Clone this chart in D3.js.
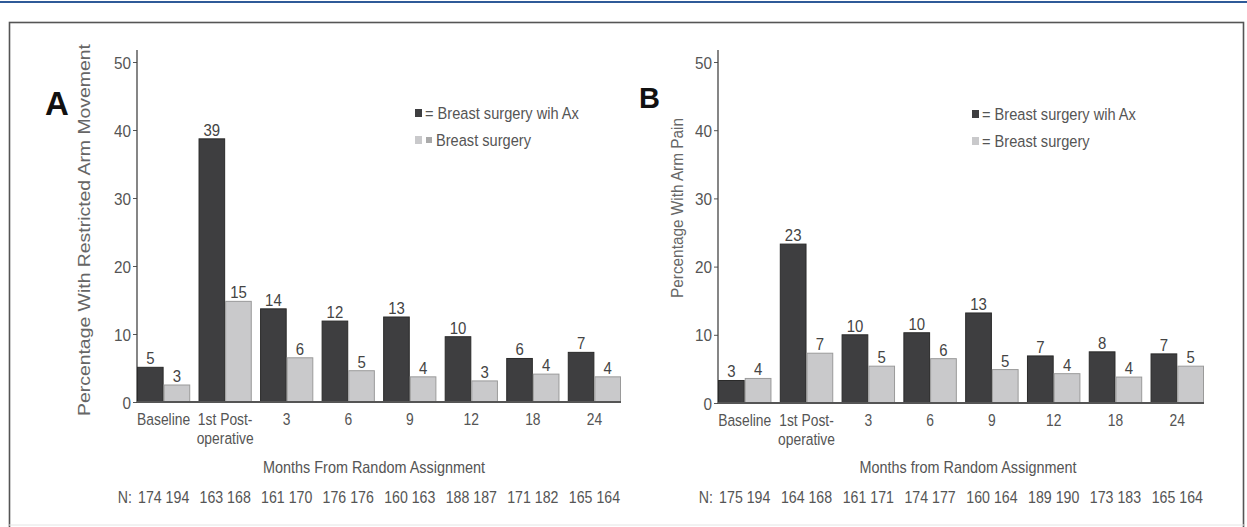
<!DOCTYPE html>
<html>
<head>
<meta charset="utf-8">
<script src="https://cdn.jsdelivr.net/npm/d3@7"></script>
<style>
  body { margin: 0; background: #fff; }
  svg text { font-family: 'Liberation Sans Narrow', 'Arial Narrow', 'Liberation Sans', sans-serif; }
</style>
</head>
<body>
<svg id="container"></svg>
<script>
const months = ['Baseline', '1st Post-|operative', '3', '6', '9', '12', '18', '24']

// panel A: restricted arm movement
const moveAx = [5.1, 38.7, 13.7, 11.9, 12.5, 9.6, 6.4, 7.3]
const moveNoAx = [2.5, 14.8, 6.5, 4.6, 3.7, 3.1, 4.1, 3.7]
const moveAxLabels = [5, 39, 14, 12, 13, 10, 6, 7]
const moveNoAxLabels = [3, 15, 6, 5, 4, 3, 4, 4]
const moveN = ['174 194', '163 168', '161 170', '176 176', '160 163', '188 187', '171 182', '165 164']

// panel B: arm pain
const painAx = [3.3, 23.3, 10.0, 10.3, 13.2, 6.9, 7.5, 7.2]
const painNoAx = [3.6, 7.3, 5.4, 6.5, 4.9, 4.3, 3.8, 5.4]
const painAxLabels = [3, 23, 10, 10, 13, 7, 8, 7]
const painNoAxLabels = [4, 7, 5, 6, 5, 4, 4, 5]
const painN = ['175 194', '164 168', '161 171', '174 177', '160 164', '189 190', '173 183', '165 164']

const yTicks = [0, 10, 20, 30, 40, 50]

const W = 1247, H = 527
const dark = '#3e3e40', light = '#c9c9cb'

let svg = d3.select('#container').attr('width', W).attr('height', H)

// the figure font is a condensed helvetica, so squeeze the text sideways
function squeeze(sel, sx, origin) {
  sel
    .style('transform-box', 'fill-box')
    .style('transform-origin', origin || 'center')
    .style('transform', `scaleX(${sx})`)
}

// blue rule at top and the figure frame
svg.append('rect').attr('x', 0).attr('y', 1).attr('width', W).attr('height', 2).attr('fill', '#2f5a98')
svg.append('rect')
  .attr('x', 9.5).attr('y', 22.5).attr('width', 1234).attr('height', 520)
  .attr('fill', 'none').attr('stroke', '#555').attr('stroke-width', 1.6)
svg.append('line').attr('x1', 9).attr('x2', 1244).attr('y1', 525).attr('y2', 525)
  .attr('stroke', '#e4e4e4')

function drawPanel(p) {
  let g = svg.append('g')

  let yScale = d3.scaleLinear().domain([0, 50]).range([p.y0, 62])
  let xScale = d3.scaleBand()
    .domain(d3.range(months.length))
    .range([p.x0, p.x1])
    .paddingInner(0.135)
    .paddingOuter(0)
    .align(0)
  let sub = d3.scaleBand().domain([0, 1]).range([0, xScale.bandwidth()])

  // y axis
  let yAxis = d3.axisLeft(yScale).tickValues(yTicks).tickSize(4).tickPadding(2)
  let gY = g.append('g').attr('transform', `translate(${p.x0},0)`).call(yAxis)
  gY.select('.domain').remove()
  gY.selectAll('.tick line').attr('stroke', '#555')
  gY.selectAll('.tick text').attr('font-size', 17).attr('fill', '#555').attr('dy', '0.36em')
  squeeze(gY.selectAll('.tick text'), 0.9, 'right')
  g.append('line')
    .attr('x1', p.x0).attr('x2', p.x0)
    .attr('y1', 50).attr('y2', p.y0 + 1)
    .attr('stroke', '#444').attr('stroke-width', 1.3)

  g.append('text')
    .attr('transform', `translate(${p.ylabelX},${p.ylabelY}) rotate(-90)`)
    .attr('text-anchor', 'middle')
    .attr('font-size', 16.5)
    .attr('fill', '#666')
    .attr('textLength', p.ylabelLen)
    .attr('lengthAdjust', 'spacingAndGlyphs')
    .text(p.ylabel)

  g.append('text')
    .attr('x', p.letterX).attr('y', p.letterY)
    .attr('font-size', p.letterSize).attr('font-weight', 'bold').attr('fill', '#111')
    .text(p.letter)

  // bars
  let series = [
    { vals: p.ax, labels: p.axLabels, fill: dark, stroke: '#2a2a2a' },
    { vals: p.noAx, labels: p.noAxLabels, fill: light, stroke: '#9a9a9a' },
  ]
  series.forEach((s, k) => {
    g.selectAll('.bar' + k)
      .data(s.vals)
      .enter()
      .append('rect')
      .attr('x', (d, i) => xScale(i) + sub(k) + 0.5)
      .attr('y', (d) => yScale(d))
      .attr('width', sub.bandwidth() - 1)
      .attr('height', (d) => yScale(0) - yScale(d))
      .attr('fill', s.fill)
      .attr('stroke', s.stroke)
      .attr('stroke-width', 1)

    let labs = g.selectAll('.lab' + k)
      .data(s.vals)
      .enter()
      .append('text')
      .attr('x', (d, i) => xScale(i) + sub(k) + sub.bandwidth() / 2)
      .attr('y', (d) => yScale(d) - 3)
      .attr('text-anchor', 'middle')
      .attr('font-size', 17)
      .attr('fill', '#444')
      .text((d, i) => s.labels[i])
    squeeze(labs, 0.88)
  })

  // x baseline
  g.append('line')
    .attr('x1', p.x0).attr('x2', p.x1)
    .attr('y1', yScale(0)).attr('y2', yScale(0))
    .attr('stroke', '#555').attr('stroke-width', 2)

  // month labels
  let ticks = g.selectAll('.month')
    .data(months)
    .enter()
    .append('text')
    .attr('text-anchor', 'middle')
    .attr('font-size', 16.5)
    .attr('fill', '#555')
  ticks.each(function (d, i) {
    let parts = d.split('|')
    parts.forEach((t, j) => {
      d3.select(this).append('tspan')
        .attr('x', xScale(i) + xScale.bandwidth() / 2)
        .attr('y', yScale(0) + 23 + j * 19)
        .text(t)
    })
  })
  squeeze(ticks, 0.84)

  g.append('text')
    .attr('x', p.titleX).attr('y', 473)
    .attr('text-anchor', 'middle')
    .attr('font-size', 16.5)
    .attr('fill', '#555')
    .attr('textLength', p.titleLen)
    .attr('lengthAdjust', 'spacingAndGlyphs')
    .text(p.xtitle)

  let nLab = g.append('text')
    .attr('x', p.x0 - 5).attr('y', 503)
    .attr('text-anchor', 'end')
    .attr('font-size', 16.5)
    .attr('fill', '#555')
    .text('N:')
  squeeze(nLab, 0.86, 'right')
  let nVals = g.selectAll('.nval')
    .data(p.n)
    .enter()
    .append('text')
    .attr('x', (d, i) => xScale(i) + xScale.bandwidth() / 2)
    .attr('y', 503)
    .attr('text-anchor', 'middle')
    .attr('font-size', 16.5)
    .attr('fill', '#555')
    .text((d) => d)
  squeeze(nVals, 0.86)

  // legend
  let lg = g.append('g').attr('transform', `translate(${p.legX},${p.legY})`)
  lg.append('rect').attr('x', 0).attr('y', -4).attr('width', 7).attr('height', 8).attr('fill', dark)
  let t1 = lg.append('text').attr('x', 10).attr('y', 6).attr('font-size', 17).attr('fill', '#555')
    .text('= Breast surgery wih Ax')
  squeeze(t1, 0.86, 'left')
  lg.append('rect').attr('x', 0).attr('y', 23).attr('width', 7).attr('height', 8).attr('fill', light)
  let t2
  if (p.oddLegend) {
    lg.append('rect').attr('x', 11).attr('y', 24).attr('width', 6).attr('height', 6).attr('fill', '#aaa')
    t2 = lg.append('text').attr('x', 21).attr('y', 33).attr('font-size', 17).attr('fill', '#555')
      .text('Breast surgery')
  } else {
    t2 = lg.append('text').attr('x', 10).attr('y', 33).attr('font-size', 17).attr('fill', '#555')
      .text('= Breast surgery')
  }
  squeeze(t2, 0.86, 'left')
}

drawPanel({
  x0: 137, x1: 621, y0: 402,
  ax: moveAx, noAx: moveNoAx, axLabels: moveAxLabels, noAxLabels: moveNoAxLabels, n: moveN,
  ylabel: 'Percentage With Restricted Arm Movement', ylabelX: 90, ylabelY: 230, ylabelLen: 372,
  letter: 'A', letterX: 45, letterY: 115, letterSize: 33,
  xtitle: 'Months From Random Assignment', titleX: 374, titleLen: 222,
  legX: 415, legY: 113, oddLegend: true,
})

drawPanel({
  x0: 718, x1: 1204, y0: 403,
  ax: painAx, noAx: painNoAx, axLabels: painAxLabels, noAxLabels: painNoAxLabels, n: painN,
  ylabel: 'Percentage With Arm Pain', ylabelX: 683, ylabelY: 208, ylabelLen: 180,
  letter: 'B', letterX: 639, letterY: 108, letterSize: 29,
  xtitle: 'Months from Random Assignment', titleX: 968, titleLen: 217,
  legX: 972, legY: 114, oddLegend: false,
})
</script>
</body>
</html>
